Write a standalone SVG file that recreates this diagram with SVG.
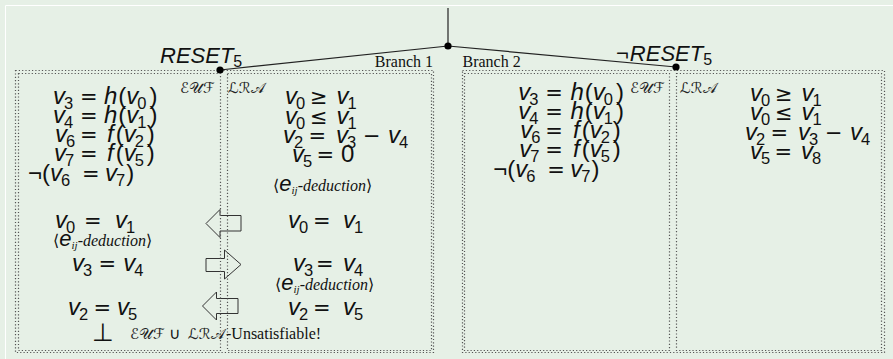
<svg xmlns="http://www.w3.org/2000/svg" width="893" height="359" viewBox="0 0 893 359">
<style>
.m{font-family:"Liberation Sans","DejaVu Sans",sans-serif;font-size:24px;fill:#111}
.i{font-style:italic}
.s{font-size:16.5px;font-style:normal}
.r{font-family:"DejaVu Sans",sans-serif;font-size:21px}
.sym{font-family:"DejaVu Sans",sans-serif}
.cal{font-family:"DejaVu Serif","DejaVu Sans",serif;font-size:15px;fill:#222}
.ser{font-family:"Liberation Serif","DejaVu Serif",serif;font-size:16px;fill:#111}
.it{font-style:italic}
.ang{font-family:"DejaVu Sans",sans-serif;font-size:16px}
.me{font-family:"Liberation Sans",sans-serif;font-style:italic;font-size:22px}
.ij{font-style:italic;font-size:11px}
.dot{fill:none;stroke:#555;stroke-width:1.2;stroke-dasharray:1.2 2.1}
.edge{fill:none;stroke:#222;stroke-width:1.2}
.arr{fill:none;stroke:#333;stroke-width:1}
.nd{fill:#000}
</style>
<rect width="893" height="359" fill="#e6f0e6"/>
<path d="M5.5,359V5.5H893" fill="none" stroke="#fff" stroke-width="1"/>

<g id="connectors">
<path class="edge" d="M448,8V46"/>
<path class="edge" d="M448,46L220,70"/>
<path class="edge" d="M448,46L676,67"/>
<path class="arr" d="M206,223.5L220,209.5V215.5H241V231H220V237.5Z"/>
<path class="arr" d="M241,264.5L224.5,250V258.5H206V271.5H224.5V279Z"/>
<path class="arr" d="M202.5,306L216.5,292V298.5H238V313.5H216.5V320Z"/>
</g>

<g id="root"><circle class="nd" cx="448" cy="46" r="3.6"/></g>

<g id="branch1">
<rect class="dot" x="15.5" y="70.5" width="418" height="282"/>
<text class="ser" x="433" y="67" text-anchor="end">Branch 1</text>
<circle class="nd" cx="220" cy="70" r="3.6"/>
<text class="m i" x="160" y="63" style="font-size:22px">RESET<tspan class="s" dy="3.5" style="font-size:16px">5</tspan></text>
</g>

<g id="euf1">
<rect class="dot" x="18.5" y="73.5" width="202" height="277"/>
<text class="cal" x="180" y="93">ℰ𝒰ℱ</text>
<text class="m" y="104"><tspan x="53" class="i">v</tspan><tspan class="s" dx="-1" dy="5">3</tspan><tspan class="r" x="80" dy="-5">=</tspan><tspan x="104" class="i">h</tspan><tspan dx="1">(</tspan><tspan class="i">v</tspan><tspan class="s" dx="-1" dy="5">0</tspan><tspan dx="3" dy="-5">)</tspan></text>
<text class="m" y="123"><tspan x="53" class="i">v</tspan><tspan class="s" dx="-1" dy="5">4</tspan><tspan class="r" x="80" dy="-5">=</tspan><tspan x="104" class="i">h</tspan><tspan dx="1">(</tspan><tspan class="i">v</tspan><tspan class="s" dx="-1" dy="5">1</tspan><tspan dx="3" dy="-5">)</tspan></text>
<text class="m" y="142"><tspan x="55" class="i">v</tspan><tspan class="s" dx="-1" dy="5">6</tspan><tspan class="r" x="80" dy="-5">=</tspan><tspan x="107" class="i">f</tspan><tspan dx="2">(</tspan><tspan class="i">v</tspan><tspan class="s" dx="-1" dy="5">2</tspan><tspan dx="3" dy="-5">)</tspan></text>
<text class="m" y="161"><tspan x="54" class="i">v</tspan><tspan class="s" dx="-1" dy="5">7</tspan><tspan class="r" x="80" dy="-5">=</tspan><tspan x="107" class="i">f</tspan><tspan dx="2">(</tspan><tspan class="i">v</tspan><tspan class="s" dx="-1" dy="5">5</tspan><tspan dx="3" dy="-5">)</tspan></text>
<text class="m" y="181"><tspan x="28">¬(</tspan><tspan class="i">v</tspan><tspan class="s" dx="-1" dy="5">6</tspan><tspan class="r" x="82" dy="-5">=</tspan><tspan x="105" class="i">v</tspan><tspan class="s" dx="-1" dy="5">7</tspan><tspan dx="1" dy="-5">)</tspan></text>
<text class="m" y="228"><tspan x="55" class="i">v</tspan><tspan class="s" dx="-1" dy="5">0</tspan><tspan class="r" x="84" dy="-5">=</tspan><tspan x="115" class="i">v</tspan><tspan class="s" dx="-1" dy="5">1</tspan></text>
<text class="ser" x="53" y="246"><tspan class="ang">⟨</tspan><tspan class="me">e</tspan><tspan class="ij" dy="3">ij</tspan><tspan class="it" dy="-3">-deduction</tspan><tspan class="ang">⟩</tspan></text>
<text class="m" y="271"><tspan x="72" class="i">v</tspan><tspan class="s" dx="-1" dy="5">3</tspan><tspan class="r" x="98.5" dy="-5">=</tspan><tspan x="123.3" class="i">v</tspan><tspan class="s" dx="-1" dy="5">4</tspan></text>
<text class="m" y="315"><tspan x="68" class="i">v</tspan><tspan class="s" dx="-1" dy="5">2</tspan><tspan class="r" x="93.5" dy="-5">=</tspan><tspan x="117" class="i">v</tspan><tspan class="s" dx="-1" dy="5">5</tspan></text>
<text class="m sym" x="92" y="341" style="font-size:25px">⊥</text>
<text class="ser" y="339"><tspan class="cal" x="130">ℰ𝒰ℱ</tspan><tspan class="sym" x="169">∪</tspan><tspan class="cal" x="188">ℒℛ𝒜</tspan><tspan x="226">-Unsatisfiable!</tspan></text>
</g>

<g id="lra1">
<rect class="dot" x="227.5" y="73.5" width="204" height="277"/>
<text class="cal" x="228" y="93">ℒℛ𝒜</text>
<text class="m" y="104"><tspan x="285" class="i">v</tspan><tspan class="s" dx="-1" dy="5">0</tspan><tspan class="r" x="310" dy="-5">≥</tspan><tspan x="336.5" class="i">v</tspan><tspan class="s" dx="-1" dy="5">1</tspan></text>
<text class="m" y="124"><tspan x="285" class="i">v</tspan><tspan class="s" dx="-1" dy="5">0</tspan><tspan class="r" x="310" dy="-5">≤</tspan><tspan x="336.5" class="i">v</tspan><tspan class="s" dx="-1" dy="5">1</tspan></text>
<text class="m" y="143"><tspan x="283" class="i">v</tspan><tspan class="s" dx="-1" dy="5">2</tspan><tspan class="r" x="308.5" dy="-5">=</tspan><tspan x="336" class="i">v</tspan><tspan class="s" dx="-1" dy="5">3</tspan><tspan class="r" x="363" dy="-5">−</tspan><tspan x="388" class="i">v</tspan><tspan class="s" dx="-1" dy="5">4</tspan></text>
<text class="m" y="162"><tspan x="292" class="i">v</tspan><tspan class="s" dx="-1" dy="5">5</tspan><tspan class="r" x="316.5" dy="-5">=</tspan><tspan x="341">0</tspan></text>
<text class="ser" x="273" y="191"><tspan class="ang">⟨</tspan><tspan class="me">e</tspan><tspan class="ij" dy="3">ij</tspan><tspan class="it" dy="-3">-deduction</tspan><tspan class="ang">⟩</tspan></text>
<text class="m" y="228"><tspan x="288" class="i">v</tspan><tspan class="s" dx="-1" dy="5">0</tspan><tspan class="r" x="313" dy="-5">=</tspan><tspan x="343" class="i">v</tspan><tspan class="s" dx="-1" dy="5">1</tspan></text>
<text class="m" y="271"><tspan x="293" class="i">v</tspan><tspan class="s" dx="-1" dy="5">3</tspan><tspan class="r" x="316" dy="-5">=</tspan><tspan x="343" class="i">v</tspan><tspan class="s" dx="-1" dy="5">4</tspan></text>
<text class="ser" x="275" y="290"><tspan class="ang">⟨</tspan><tspan class="me">e</tspan><tspan class="ij" dy="3">ij</tspan><tspan class="it" dy="-3">-deduction</tspan><tspan class="ang">⟩</tspan></text>
<text class="m" y="315"><tspan x="288" class="i">v</tspan><tspan class="s" dx="-1" dy="5">2</tspan><tspan class="r" x="313" dy="-5">=</tspan><tspan x="343" class="i">v</tspan><tspan class="s" dx="-1" dy="5">5</tspan></text>
</g>

<g id="branch2">
<rect class="dot" x="462.5" y="70.5" width="422" height="282"/>
<text class="ser" x="462.5" y="67">Branch 2</text>
<circle class="nd" cx="676" cy="67" r="3.6"/>
<text class="m" x="616" y="61" style="font-size:22px">¬<tspan class="i" dx="1">RESET</tspan><tspan class="s" dy="3.5" style="font-size:16px">5</tspan></text>
</g>

<g id="euf2">
<rect class="dot" x="464.5" y="73.5" width="205" height="277"/>
<text class="cal" x="630" y="93">ℰ𝒰ℱ</text>
<text class="m" y="100"><tspan x="518.3" class="i">v</tspan><tspan class="s" dx="-1" dy="5">3</tspan><tspan class="r" x="545.3" dy="-5">=</tspan><tspan x="570.5" class="i">h</tspan><tspan dx="1">(</tspan><tspan class="i">v</tspan><tspan class="s" dx="-1" dy="5">0</tspan><tspan dx="3" dy="-5">)</tspan></text>
<text class="m" y="119"><tspan x="518.3" class="i">v</tspan><tspan class="s" dx="-1" dy="5">4</tspan><tspan class="r" x="545.3" dy="-5">=</tspan><tspan x="570.5" class="i">h</tspan><tspan dx="1">(</tspan><tspan class="i">v</tspan><tspan class="s" dx="-1" dy="5">1</tspan><tspan dx="3" dy="-5">)</tspan></text>
<text class="m" y="138"><tspan x="520.3" class="i">v</tspan><tspan class="s" dx="-1" dy="5">6</tspan><tspan class="r" x="545.3" dy="-5">=</tspan><tspan x="573" class="i">f</tspan><tspan dx="2">(</tspan><tspan class="i">v</tspan><tspan class="s" dx="-1" dy="5">2</tspan><tspan dx="3" dy="-5">)</tspan></text>
<text class="m" y="157"><tspan x="519.3" class="i">v</tspan><tspan class="s" dx="-1" dy="5">7</tspan><tspan class="r" x="545.3" dy="-5">=</tspan><tspan x="573" class="i">f</tspan><tspan dx="2">(</tspan><tspan class="i">v</tspan><tspan class="s" dx="-1" dy="5">5</tspan><tspan dx="3" dy="-5">)</tspan></text>
<text class="m" y="177"><tspan x="493.3">¬(</tspan><tspan class="i">v</tspan><tspan class="s" dx="-1" dy="5">6</tspan><tspan class="r" x="547.3" dy="-5">=</tspan><tspan x="570.3" class="i">v</tspan><tspan class="s" dx="-1" dy="5">7</tspan><tspan dx="1" dy="-5">)</tspan></text>
</g>

<g id="lra2">
<rect class="dot" x="676.5" y="73.5" width="205" height="277"/>
<text class="cal" x="680" y="93">ℒℛ𝒜</text>
<text class="m" y="101"><tspan x="750" class="i">v</tspan><tspan class="s" dx="-1" dy="5">0</tspan><tspan class="r" x="775" dy="-5">≥</tspan><tspan x="801.5" class="i">v</tspan><tspan class="s" dx="-1" dy="5">1</tspan></text>
<text class="m" y="120"><tspan x="750" class="i">v</tspan><tspan class="s" dx="-1" dy="5">0</tspan><tspan class="r" x="775" dy="-5">≤</tspan><tspan x="801.5" class="i">v</tspan><tspan class="s" dx="-1" dy="5">1</tspan></text>
<text class="m" y="140"><tspan x="745" class="i">v</tspan><tspan class="s" dx="-1" dy="5">2</tspan><tspan class="r" x="770.5" dy="-5">=</tspan><tspan x="798" class="i">v</tspan><tspan class="s" dx="-1" dy="5">3</tspan><tspan class="r" x="825" dy="-5">−</tspan><tspan x="850" class="i">v</tspan><tspan class="s" dx="-1" dy="5">4</tspan></text>
<text class="m" y="159"><tspan x="750" class="i">v</tspan><tspan class="s" dx="-1" dy="5">5</tspan><tspan class="r" x="774.5" dy="-5">=</tspan><tspan x="801" class="i">v</tspan><tspan class="s" dx="-1" dy="5">8</tspan></text>
</g>
</svg>
